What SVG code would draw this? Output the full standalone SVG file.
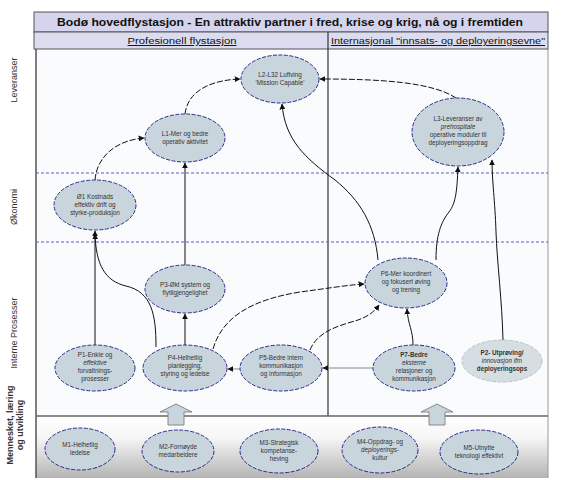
<svg xmlns="http://www.w3.org/2000/svg" width="563" height="480" viewBox="0 0 563 480">
<style>
.node ellipse{fill:#c9d5dd;stroke:#2b2b8c;stroke-width:1;stroke-dasharray:4 1.5}
.node text{font-family:"Liberation Sans",Arial,sans-serif;font-size:6.3px;fill:#333;text-anchor:middle}
.lbl{font-family:"Liberation Sans",Arial,sans-serif;font-size:9px;fill:#333;text-anchor:middle}
.conn path{fill:none;stroke:#111;stroke-width:1}
.conn .d{stroke-dasharray:6 2}
.conn .g{stroke:#888}
.blk{fill:#c9d5dd;stroke:#888;stroke-width:1}
</style>
<defs>
<marker id="ah" viewBox="0 0 10 10" refX="9" refY="5" markerWidth="6" markerHeight="6" orient="auto" markerUnits="userSpaceOnUse">
<path d="M0,0 L10,5 L0,10 z" fill="#111"/>
</marker>
<linearGradient id="bot" x1="0" y1="0" x2="0" y2="1">
<stop offset="0" stop-color="#ffffff"/>
<stop offset="0.35" stop-color="#f6f6f6"/>
<stop offset="1" stop-color="#b4b4b4"/>
</linearGradient>
</defs>
<rect x="0" y="0" width="563" height="480" fill="#ffffff"/>
<rect x="36" y="49" width="512" height="367" fill="#fafbfc"/>
<rect x="36" y="416" width="512" height="62" fill="url(#bot)"/>
<!-- title & header -->
<rect x="34" y="12" width="514" height="20" fill="#d4d4ec" stroke="#555" stroke-width="1"/>
<text x="290" y="26" font-family="Liberation Sans,Arial,sans-serif" font-size="10.6" font-weight="bold" fill="#111" text-anchor="middle" textLength="466" lengthAdjust="spacingAndGlyphs">Bodø hovedflystasjon - En attraktiv partner i fred, krise og krig, nå og i fremtiden</text>
<rect x="34" y="32" width="514" height="17" fill="#dcdcf0" stroke="#555" stroke-width="1"/>
<text x="182" y="44" font-family="Liberation Sans,Arial,sans-serif" font-size="9.6" fill="#111" text-anchor="middle" text-decoration="underline" textLength="109" lengthAdjust="spacingAndGlyphs">Profesionell flystasjon</text>
<text x="438" y="44" font-family="Liberation Sans,Arial,sans-serif" font-size="9.6" fill="#111" text-anchor="middle" text-decoration="underline" textLength="214" lengthAdjust="spacingAndGlyphs">Internasjonal "innsats- og deployeringsevne"</text>
<!-- frame lines -->
<line x1="36" y1="49" x2="36" y2="478" stroke="#555" stroke-width="1.5"/>
<line x1="548" y1="49" x2="548" y2="478" stroke="#999" stroke-width="1"/>
<line x1="328" y1="32" x2="328" y2="416" stroke="#333" stroke-width="1.2"/>
<line x1="36" y1="416" x2="548" y2="416" stroke="#666" stroke-width="1.5"/>
<line x1="36" y1="173" x2="548" y2="173" stroke="#5a5acc" stroke-width="1" stroke-dasharray="3 2"/>
<line x1="36" y1="242" x2="548" y2="242" stroke="#5a5acc" stroke-width="1" stroke-dasharray="3 2"/>
<!-- row labels -->
<text class="lbl" transform="translate(17,80) rotate(-90)">Leveranser</text>
<text class="lbl" transform="translate(17,207) rotate(-90)">Økonomi</text>
<text class="lbl" transform="translate(17,333) rotate(-90)">Interne Prosesser</text>
<text class="lbl" font-weight="bold" transform="translate(13,425) rotate(-90)">Mennesket, læring</text>
<text class="lbl" font-weight="bold" transform="translate(23,425) rotate(-90)">og utvikling</text>
<!-- block arrows -->
<polygon class="blk" points="168,425 168,412 160,412 176,404 192,412 184,412 184,425"/>
<polygon class="blk" points="429,425 429,412 421,412 437,404 453,412 445,412 445,425"/>
<!-- connectors -->
<g id="connectors" class="conn">
<path class="d" d="M185,114 C188,90 212,80 240,79" marker-end="url(#ah)"/>
<path class="d" d="M95,180 C97,155 118,140 144,138" marker-end="url(#ah)"/>
<path class="d" d="M456,98 C432,82 380,79 320,79" marker-end="url(#ah)"/>
<path d="M185,265 L185,163" marker-end="url(#ah)"/>
<path d="M185,345 L185,314" marker-end="url(#ah)"/>
<path d="M95,345 L95,231" marker-end="url(#ah)"/>
<path d="M156,347 C156,315 152,292 126,286 C105,281 96,265 95,234" marker-end="url(#ah)"/>
<path d="M378,260 C375,225 360,200 335,180 C305,158 285,140 282,104" marker-end="url(#ah)"/>
<path d="M436,260 C436,235 441,222 449,212 C456,203 457,190 458,167" marker-end="url(#ah)"/>
<path d="M503,340 C502,300 497,262 496,232 C495,200 492,182 492,160" marker-end="url(#ah)"/>
<path class="d" d="M213,349 C222,318 250,300 300,292 C330,288 348,285 364,284" marker-end="url(#ah)"/>
<path class="d" d="M310,350 C318,330 342,325 358,320 C369,316 375,311 379,305" marker-end="url(#ah)"/>
<path d="M413,345 C413,330 408,325 407,309" marker-end="url(#ah)"/>
<path class="g" d="M240,369 L228,369" marker-end="url(#ah)"/>
<path class="g" d="M373,368 L323,368" marker-end="url(#ah)"/>
</g>
<!-- nodes -->
<g id="L2" class="node"><ellipse cx="280" cy="79" rx="39" ry="24"/><text x="280" y="77">L2-L32 Luftving</text><text x="280" y="85">'Mission Capable'</text></g>
<g id="L1" class="node"><ellipse cx="185" cy="138" rx="40" ry="24"/><text x="185" y="136">L1-Mer og bedre</text><text x="185" y="144">operativ aktivitet</text></g>
<g id="L3" class="node"><ellipse cx="458" cy="132" rx="46" ry="34"/><text x="458" y="121">L3-Leveranser av</text><text x="458" y="129" font-style="italic">prehospitale</text><text x="458" y="137">operative moduler til</text><text x="458" y="145">deployeringsoppdrag</text></g>
<g id="O1" class="node"><ellipse cx="95" cy="205" rx="41" ry="25"/><text x="95" y="199">Ø1 Kostnads</text><text x="95" y="207">effektiv drift og</text><text x="95" y="215">styrke-produksjon</text></g>
<g id="P3" class="node"><ellipse cx="185" cy="289" rx="40" ry="24"/><text x="185" y="287">P3-Økt system og</text><text x="185" y="295">flytilgjengelighet</text></g>
<g id="P6" class="node"><ellipse cx="406" cy="283" rx="41" ry="25"/><text x="406" y="276">P6-Mer koordinert</text><text x="406" y="284">og fokusert øving</text><text x="406" y="292">og trening</text></g>
<g id="P1" class="node"><ellipse cx="95" cy="368" rx="40" ry="23"/><text x="95" y="357">P1-Enkle og</text><text x="95" y="365" font-style="italic">effektive</text><text x="95" y="373">forvaltnings-</text><text x="95" y="381">prosesser</text></g>
<g id="P4" class="node"><ellipse cx="185" cy="368" rx="42" ry="23"/><text x="185" y="360">P4-Helhetlig</text><text x="185" y="368">planlegging,</text><text x="185" y="376">styring og ledelse</text></g>
<g id="P5" class="node"><ellipse cx="281" cy="368" rx="41" ry="23"/><text x="281" y="360">P5-Bedre intern</text><text x="281" y="368">kommunikasjon</text><text x="281" y="376">og informasjon</text></g>
<g id="P7" class="node"><ellipse cx="414" cy="368" rx="41" ry="23"/><text x="414" y="357" font-weight="bold">P7-Bedre</text><text x="414" y="365" font-style="italic">eksterne</text><text x="414" y="373">relasjoner og</text><text x="414" y="381">kommunikasjon</text></g>
<g id="P2" class="node"><ellipse cx="502" cy="361" rx="40" ry="21" style="fill:#d6dee4;stroke:#b8c2ca"/><text x="502" y="355" font-weight="bold">P2- Utprøving/</text><text x="502" y="363" font-style="italic">innovasjon ifm</text><text x="502" y="371" font-weight="bold">deployeringsops</text></g>
<g id="M1" class="node"><ellipse cx="80" cy="449" rx="35" ry="21"/><text x="80" y="447">M1-Helhetlig</text><text x="80" y="455">ledelse</text></g>
<g id="M2" class="node"><ellipse cx="178" cy="451" rx="36" ry="21"/><text x="178" y="449">M2-Fornøyde</text><text x="178" y="457">medarbeidere</text></g>
<g id="M3" class="node"><ellipse cx="279" cy="451" rx="39" ry="22"/><text x="279" y="445">M3-Strategisk</text><text x="279" y="453">kompetanse-</text><text x="279" y="461">heving</text></g>
<g id="M4" class="node"><ellipse cx="380" cy="450" rx="38" ry="23"/><text x="380" y="444">M4-Oppdrag- og</text><text x="380" y="452" font-style="italic">deployerings-</text><text x="380" y="460">kultur</text></g>
<g id="M5" class="node"><ellipse cx="479" cy="452" rx="39" ry="22"/><text x="479" y="450">M5-Utnytte</text><text x="479" y="458">teknologi effektivt</text></g>
</svg>
